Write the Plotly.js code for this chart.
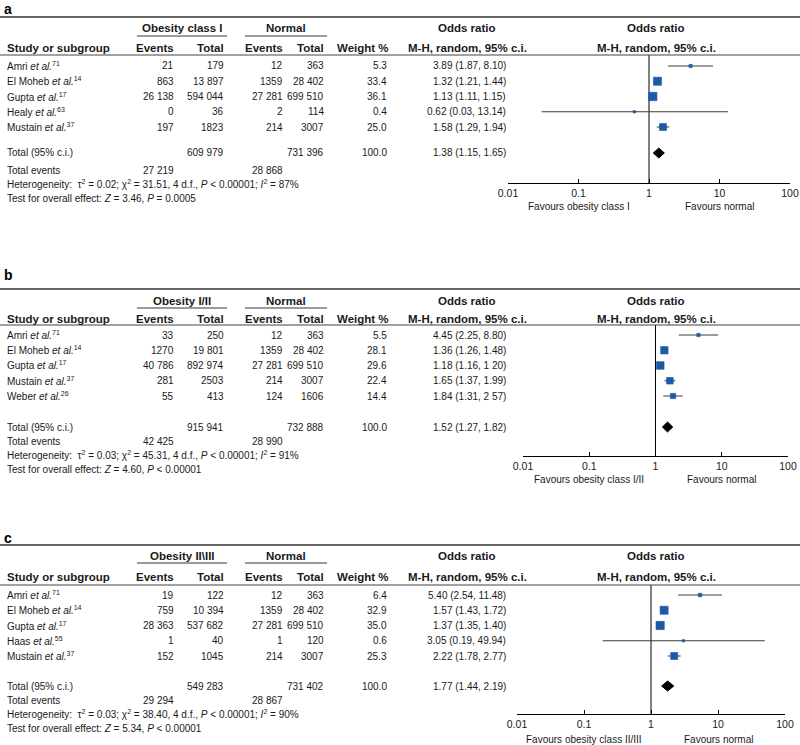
<!DOCTYPE html>
<html><head><meta charset="utf-8">
<script src="https://cdn.plot.ly/plotly-3.0.1.min.js"></script>
<style>body{margin:0;background:#fff}#chart{width:800px;height:745px}</style>
</head><body><div id="chart"></div>
<script>
// ---------------- DATA ----------------
// Panel a: obesity class I vs normal
const studiesA   = ['Amri','El Moheb','Gupta','Healy','Mustain'];
const refsA      = [71,14,17,63,37];
const expEventsA = [21,863,26138,0,197];
const expTotalA  = [179,13897,594044,36,1823];
const ctlEventsA = [12,1359,27281,2,214];
const ctlTotalA  = [363,28402,699510,114,3007];
const weightA    = [5.3,33.4,36.1,0.4,25.0];
const orA        = [3.89,1.32,1.13,0.62,1.58];
const loA        = [1.87,1.21,1.11,0.03,1.29];
const hiA        = [8.10,1.44,1.15,13.14,1.94];
const orTextA    = ['3.89 (1.87, 8.10)','1.32 (1.21, 1.44)','1.13 (1.11, 1.15)','0.62 (0.03, 13.14)','1.58 (1.29, 1.94)'];
const totalA     = [609979,731396,100.0];        // exp total, ctl total, weight
const totalEvA   = [27219,28868];
const pooledA    = [1.38,1.15,1.65];
const pooledTextA= '1.38 (1.15, 1.65)';

// Panel b: obesity I/II vs normal
const studiesB   = ['Amri','El Moheb','Gupta','Mustain','Weber'];
const refsB      = [71,14,17,37,26];
const expEventsB = [33,1270,40786,281,55];
const expTotalB  = [250,19801,892974,2503,413];
const ctlEventsB = [12,1359,27281,214,124];
const ctlTotalB  = [363,28402,699510,3007,1606];
const weightB    = [5.5,28.1,29.6,22.4,14.4];
const orB        = [4.45,1.36,1.18,1.65,1.84];
const loB        = [2.25,1.26,1.16,1.37,1.31];
const hiB        = [8.80,1.48,1.20,1.99,2.57];
const orTextB    = ['4.45 (2.25, 8.80)','1.36 (1.26, 1.48)','1.18 (1.16, 1 20)','1.65 (1.37, 1.99)','1.84 (1.31, 2 57)'];
const totalB     = [915941,732888,100.0];
const totalEvB   = [42425,28990];
const pooledB    = [1.52,1.27,1.82];
const pooledTextB= '1.52 (1.27, 1.82)';

// Panel c: obesity II/III vs normal
const studiesC   = ['Amri','El Moheb','Gupta','Haas','Mustain'];
const refsC      = [71,14,17,55,37];
const expEventsC = [19,759,28363,1,152];
const expTotalC  = [122,10394,537682,40,1045];
const ctlEventsC = [12,1359,27281,1,214];
const ctlTotalC  = [363,28402,699510,120,3007];
const weightC    = [6.4,32.9,35.0,0.6,25.3];
const orC        = [5.40,1.57,1.37,3.05,2.22];
const loC        = [2.54,1.43,1.35,0.19,1.78];
const hiC        = [11.48,1.72,1.40,49.94,2.77];
const orTextC    = ['5.40 (2.54, 11.48)','1.57 (1.43, 1.72)','1.37 (1.35, 1.40)','3.05 (0.19, 49.94)','2.22 (1.78, 2.77)'];
const totalC     = [549283,731402,100.0];
const totalEvC   = [29294,28867];
const pooledC    = [1.77,1.44,2.19];
const pooledTextC= '1.77 (1.44, 2.19)';

// Heterogeneity / overall effect
const tau2    = ['0.02','0.03','0.03'];
const chi2    = ['31.51','45.31','38.40'];
const dfs     = [4,4,4];
const hetP    = ['&lt; 0.00001','&lt; 0.00001','&lt; 0.00001'];
const i2      = [87,91,90];
const zVal    = ['3.46','4.60','5.34'];
const zP      = ['= 0.0005','&lt; 0.00001','&lt; 0.00001'];

const panelLabels = ['a','b','c'];
const groupNames  = ['Obesity class I','Obesity I/II','Obesity II\\III'];
const favoursLeft = ['Favours obesity class I','Favours obesity class I/II','Favours obesity class II/III'];
const favoursRight= 'Favours normal';
const tickVals = [0.01,0.1,1,10,100];
const tickText = ['0.01','0.1','1','10','100'];

// ---------------- LAYOUT (pixel geometry) ----------------
const W = 800, H = 745, ROWH = 15.25;
const FONT = 'Liberation Sans, Arial, Helvetica, sans-serif';
const X = p => p / W, Y = p => 1 - p / H;
const COL = {study:6, expEv:175, expTot:225, ctlEv:284, ctlTot:325, weight:388, orText:507, orHead:467, forestHead:656, grp1:182, grp2:286};

const panels = [
  {g:{label:9,  top:17,  grp:28,  ul:36,  head:48,  hline:55,  row0:66,  total:153, ev:170, het:184, test:198, axis:183, fav:206, xl:508, xr:790},
   d:{st:studiesA, rf:refsA, ee:expEventsA, et:expTotalA, ce:ctlEventsA, ct:ctlTotalA, w:weightA, or:orA, lo:loA, hi:hiA, ot:orTextA, tot:totalA, tev:totalEvA, pool:pooledA, pt:pooledTextA}},
  {g:{label:275, top:289, grp:301, ul:308, head:319, hline:325, row0:335, total:427, ev:441, het:455, test:469, axis:456, fav:480, xl:523, xr:788},
   d:{st:studiesB, rf:refsB, ee:expEventsB, et:expTotalB, ce:ctlEventsB, ct:ctlTotalB, w:weightB, or:orB, lo:loB, hi:hiB, ot:orTextB, tot:totalB, tev:totalEvB, pool:pooledB, pt:pooledTextB}},
  {g:{label:538, top:545, grp:556, ul:563, head:577, hline:585, row0:595, total:686, ev:700, het:714, test:728, axis:714, fav:739, xl:517, xr:785},
   d:{st:studiesC, rf:refsC, ee:expEventsC, et:expTotalC, ce:ctlEventsC, ct:ctlTotalC, w:weightC, or:orC, lo:loC, hi:hiC, ot:orTextC, tot:totalC, tev:totalEvC, pool:pooledC, pt:pooledTextC}}
];

const fmt = n => n >= 10000 ? String(n).replace(/\B(?=(\d{3})+(?!\d))/g, ' ') : String(n);

const ann = [], shapes = [], traces = [];
const layout = {
  width: W, height: H, margin: {l:0, r:0, t:0, b:0},
  paper_bgcolor: '#fff', plot_bgcolor: 'rgba(0,0,0,0)', showlegend: false,
  font: {family: FONT, size: 10, color: '#1a1a1a'}
};

function txt(x, y, text, anchor, size, color) {
  ann.push({xref:'paper', yref:'paper', x:X(x), y:Y(y), text:text, showarrow:false,
            xanchor:anchor, yanchor:'middle', borderpad:0,
            font:{family:FONT, size:size || 10, color:color || '#1a1a1a'}});
}
function hline(x0, x1, y, color, width) {
  shapes.push({type:'line', xref:'paper', yref:'paper', x0:X(x0), x1:X(x1), y0:Y(y), y1:Y(y),
               line:{color:color, width:width}});
}

panels.forEach((p, k) => {
  const g = p.g, d = p.d;
  const sfx = k === 0 ? '' : String(k + 1);
  const rowPx = i => g.row0 + i * ROWH;
  const totIdx = (g.total - g.row0) / ROWH;

  // panel label and rules
  txt(3, g.label, '<b>' + panelLabels[k] + '</b>', 'left', 14, '#000');
  hline(0, 800, g.top, '#333', 1.4);
  hline(0, 800, g.hline, '#444', 1);
  hline(137, 227, g.ul, '#9a9a9a', 1.8);
  hline(245, 327, g.ul, '#9a9a9a', 1.8);

  // headers
  txt(COL.grp1, g.grp, '<b>' + groupNames[k] + '</b>', 'center', 11.5);
  txt(COL.grp2, g.grp, '<b>Normal</b>', 'center', 11.5);
  txt(COL.orHead, g.grp, '<b>Odds ratio</b>', 'center', 11.5);
  txt(COL.forestHead, g.grp, '<b>Odds ratio</b>', 'center', 11.5);
  txt(COL.study, g.head, '<b>Study or subgroup</b>', 'left', 11.5);
  txt(COL.expEv, g.head, '<b>Events</b>', 'right', 11.5);
  txt(COL.expTot, g.head, '<b>Total</b>', 'right', 11.5);
  txt(COL.ctlEv, g.head, '<b>Events</b>', 'right', 11.5);
  txt(COL.ctlTot, g.head, '<b>Total</b>', 'right', 11.5);
  txt(390, g.head, '<b>Weight %</b>', 'right', 11.5);
  txt(COL.orHead, g.head, '<b>M-H, random, 95% c.i.</b>', 'center', 11.5);
  txt(COL.forestHead, g.head, '<b>M-H, random, 95% c.i.</b>', 'center', 11.5);

  // study rows
  d.st.forEach((s, i) => {
    const y = rowPx(i);
    txt(COL.study, y, s + ' <i>et al.</i><sup>' + d.rf[i] + '</sup>', 'left');
    txt(COL.expEv, y, fmt(d.ee[i]), 'right');
    txt(COL.expTot, y, fmt(d.et[i]), 'right');
    txt(COL.ctlEv, y, fmt(d.ce[i]), 'right');
    txt(COL.ctlTot, y, fmt(d.ct[i]), 'right');
    txt(COL.weight, y, d.w[i].toFixed(1), 'right');
    txt(COL.orText, y, d.ot[i], 'right');
  });

  // totals
  txt(COL.study, g.total, 'Total (95% c.i.)', 'left');
  txt(COL.expTot, g.total, fmt(d.tot[0]), 'right');
  txt(COL.ctlTot, g.total, fmt(d.tot[1]), 'right');
  txt(COL.weight, g.total, d.tot[2].toFixed(1), 'right');
  txt(COL.orText, g.total, d.pt, 'right');
  txt(COL.study, g.ev, 'Total events', 'left');
  txt(COL.expEv, g.ev, fmt(d.tev[0]), 'right');
  txt(COL.ctlEv, g.ev, fmt(d.tev[1]), 'right');
  txt(COL.study, g.het, 'Heterogeneity:  \u03c4<sup>2</sup> = ' + tau2[k] + '; \u03c7<sup>2</sup> = ' + chi2[k] +
      ', ' + dfs[k] + ' d.f., <i>P</i> ' + hetP[k] + '; <i>I</i><sup>2</sup> = ' + i2[k] + '%', 'left');
  txt(COL.study, g.test, 'Test for overall effect: <i>Z</i> = ' + zVal[k] + ', <i>P</i> ' + zP[k], 'left');

  // forest axes
  const idxTop = (g.hline - g.row0) / ROWH;
  const idxBot = (g.axis - g.row0) / ROWH;
  layout['xaxis' + sfx] = {
    type:'log', range:[-2, 2], domain:[X(g.xl), X(g.xr)], anchor:'y' + sfx,
    tickvals:tickVals, ticktext:tickText, ticks:'inside', ticklen:4, tickwidth:1, tickcolor:'#000',
    showline:true, linecolor:'#000', linewidth:1, showgrid:false, zeroline:false, fixedrange:true,
    tickfont:{family:FONT, size:10.5, color:'#1a1a1a'}
  };
  layout['yaxis' + sfx] = {
    domain:[Y(g.axis), Y(g.hline)], range:[idxBot, idxTop], anchor:'x' + sfx,
    visible:false, showgrid:false, zeroline:false, fixedrange:true
  };
  const xa = 'x' + sfx, ya = 'y' + sfx;

  // favours labels (quarter points of the log axis domain)
  const qx = f => g.xl + f * (g.xr - g.xl);
  txt(qx(0.25), g.fav, favoursLeft[k], 'center');
  txt(qx(0.75), g.fav, favoursRight, 'center');

  // line of no effect
  traces.push({type:'scatter', mode:'lines', x:[1, 1], y:[idxTop, idxBot], xaxis:xa, yaxis:ya,
               line:{color:'#000', width:1}, hoverinfo:'skip', cliponaxis:false});
  // CI lines
  const cx = [], cy = [];
  d.or.forEach((o, i) => { cx.push(d.lo[i], d.hi[i], null); cy.push(i, i, null); });
  traces.push({type:'scatter', mode:'lines', x:cx, y:cy, xaxis:xa, yaxis:ya,
               line:{color:'#3a3a3a', width:1}, hoverinfo:'skip', cliponaxis:false});
  // study squares
  traces.push({type:'scatter', mode:'markers', x:d.or, y:d.or.map((o, i) => i), xaxis:xa, yaxis:ya,
               marker:{symbol:'square', color:'#1c5aa8', opacity:1,
                       size:d.w.map(w => Math.max(2.4, 1.4 * Math.sqrt(w))),
                       line:{width:0.6, color:'#1c5aa8'}},
               hoverinfo:'skip', cliponaxis:false});
  // pooled diamond
  const hh = 5 / ROWH;
  traces.push({type:'scatter', mode:'lines', fill:'toself', fillcolor:'#000',
               x:[d.pool[1], d.pool[0], d.pool[2], d.pool[0], d.pool[1]],
               y:[totIdx, totIdx - hh, totIdx, totIdx + hh, totIdx], xaxis:xa, yaxis:ya,
               line:{color:'#000', width:1}, hoverinfo:'skip', cliponaxis:false});
});

layout.annotations = ann;
layout.shapes = shapes;
Plotly.newPlot('chart', traces, layout, {staticPlot:true, displayModeBar:false});
</script>
</body></html>
